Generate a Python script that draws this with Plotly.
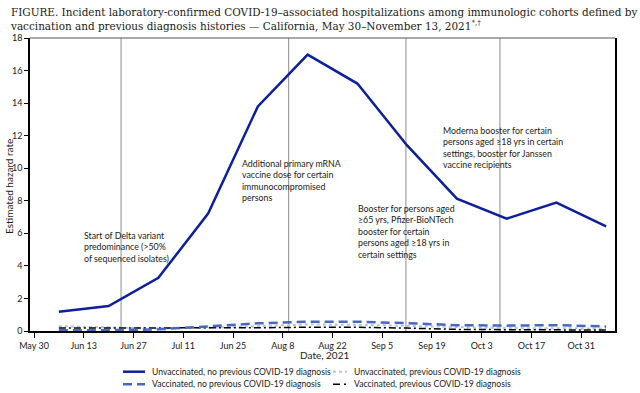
import plotly.graph_objects as go

# ---------------- data ----------------
dates = ["2021-06-06", "2021-06-20", "2021-07-04", "2021-07-18", "2021-08-01", "2021-08-15",
         "2021-08-29", "2021-09-12", "2021-09-26", "2021-10-10", "2021-10-24", "2021-11-07"]
unvax_no_prev = [1.18, 1.53, 3.27, 7.21, 13.8, 16.98, 15.2, 11.4, 8.13, 6.9, 7.89, 6.43]
vax_no_prev = [0.05, 0.05, 0.10, 0.28, 0.47, 0.57, 0.57, 0.48, 0.36, 0.33, 0.36, 0.28]
unvax_prev = [0.30, 0.22, 0.15, 0.20, 0.32, 0.40, 0.38, 0.30, 0.22, 0.18, 0.17, 0.15]
vax_prev = [0.18, 0.18, 0.18, 0.19, 0.20, 0.23, 0.23, 0.18, 0.10, 0.08, 0.08, 0.06]

series_names = ["Unvaccinated, no previous COVID-19 diagnosis",
                "Unvaccinated, previous COVID-19 diagnosis",
                "Vaccinated, no previous COVID-19 diagnosis",
                "Vaccinated, previous COVID-19 diagnosis"]

tick_dates = ["2021-05-30", "2021-06-13", "2021-06-27", "2021-07-11", "2021-07-25", "2021-08-08",
              "2021-08-22", "2021-09-05", "2021-09-19", "2021-10-03", "2021-10-17", "2021-10-31"]
tick_labels = ["May 30", "Jun 13", "Jun 27", "Jul 11", "Jun 25", "Aug 8",
               "Aug 22", "Sep 5", "Sep 19", "Oct 3", "Oct 17", "Oct 31"]

event_dates = ["2021-06-23 12:00", "2021-08-09 16:00", "2021-09-11 16:00", "2021-10-08 03:00"]
event_labels = [
    "Start of Delta variant<br>predominance (>50%<br>of sequenced isolates)",
    "Additional primary mRNA<br>vaccine dose for certain<br>immunocompromised<br>persons",
    "Booster for persons aged<br>≥65 yrs, Pfizer-BioNTech<br>booster for certain<br>persons aged ≥18 yrs in<br>certain settings",
    "Moderna booster for certain<br>persons aged ≥18 yrs in certain<br>settings, booster for Janssen<br>vaccine recipients",
]
label_x = ["2021-06-12 10:00", "2021-07-27", "2021-08-28 14:00", "2021-09-21 12:00"]
label_y = [6.31, 10.74, 7.98, 12.79]

title_text = ("FIGURE. Incident laboratory-confirmed COVID-19–associated hospitalizations among immunologic cohorts defined by<br>"
              "vaccination and previous diagnosis histories — California, May 30–November 13, 2021<sup>*,†</sup>")
x_title = "Date, 2021"
y_title = "Estimated hazard rate"

# ---------------- styles ----------------
C_MAIN = "#0c1f9c"
C_DASH = "#4468c4"
C_DOT = "#b3c2ec"
C_DD = "#000000"
SANS = "Lato, Liberation Sans, Arial"
SERIF = "DejaVu Serif, Liberation Serif, serif"
TXT = "#1a1a1a"

fig = go.Figure()
fig.add_trace(go.Scatter(x=dates, y=unvax_prev, mode="lines", name=series_names[1],
                         line=dict(color=C_DOT, width=2, dash="dot")))
fig.add_trace(go.Scatter(x=dates, y=vax_prev, mode="lines", name=series_names[3],
                         line=dict(color=C_DD, width=1.5, dash="7px,3px,2px,3px")))
fig.add_trace(go.Scatter(x=dates, y=vax_no_prev, mode="lines", name=series_names[2],
                         line=dict(color=C_DASH, width=2.5, dash="9px,5px")))
fig.add_trace(go.Scatter(x=dates, y=unvax_no_prev, mode="lines", name=series_names[0],
                         line=dict(color=C_MAIN, width=2.5)))

# event vertical lines
for d in event_dates:
    fig.add_shape(type="line", xref="x", yref="paper", x0=d, x1=d, y0=0, y1=1,
                  line=dict(color="#8c8c8c", width=1), layer="below")

# event labels
for lx, ly, txt in zip(label_x, label_y, event_labels):
    fig.add_annotation(x=lx, y=ly, xref="x", yref="y", text=txt, showarrow=False,
                       xanchor="left", yanchor="top", align="left",
                       font=dict(family=SANS, size=8.8, color=TXT))

# top border (gray)
fig.add_shape(type="line", xref="paper", yref="paper", x0=0, x1=1, y0=1, y1=1,
              line=dict(color="#555555", width=1))

# title
fig.add_annotation(x=-0.0376, y=1.116, xref="paper", yref="paper", text=title_text,
                   showarrow=False, xanchor="left", yanchor="top", align="left",
                   font=dict(family=SERIF, size=10.45, color=TXT))
# axis titles
fig.add_annotation(x=0.5026, y=-0.082, xref="paper", yref="paper", text=x_title,
                   showarrow=False, xanchor="center", yanchor="middle",
                   font=dict(family=SANS, size=10, color=TXT))
fig.add_annotation(x=-0.0359, y=0.495, xref="paper", yref="paper", text=y_title,
                   showarrow=False, xanchor="center", yanchor="middle", textangle=-90,
                   font=dict(family=SANS, size=10, color=TXT))

# manual legend (2 x 2)
leg_styles = [
    dict(color=C_MAIN, width=2.5),
    dict(color=C_DOT, width=2, dash="dot"),
    dict(color=C_DASH, width=2.5, dash="9px,5px"),
    dict(color=C_DD, width=1.5, dash="7px,4px,2px,3px"),
]
leg_pos = [(0.159, 0.1966, 0.205, -0.1389),
           (0.518, 0.542, 0.5504, -0.1389),
           (0.159, 0.1966, 0.205, -0.1819),
           (0.518, 0.542, 0.5504, -0.1819)]
for i, (x0, x1, xt, yy) in enumerate(leg_pos):
    fig.add_shape(type="line", xref="paper", yref="paper", x0=x0, x1=x1, y0=yy, y1=yy,
                  line=leg_styles[i])
    fig.add_annotation(x=xt, y=yy, xref="paper", yref="paper", text=series_names[i],
                       showarrow=False, xanchor="left", yanchor="middle",
                       font=dict(family=SANS, size=8.6, color=TXT))

fig.update_layout(
    width=640, height=393,
    margin=dict(l=30, r=25, t=38, b=62),
    paper_bgcolor="white", plot_bgcolor="white",
    showlegend=False,
    font=dict(family=SANS, size=9, color=TXT),
)
fig.update_xaxes(
    type="date", range=["2021-05-28 21:00", "2021-11-09 12:00"],
    tickvals=tick_dates, ticktext=tick_labels, tickangle=0, automargin=False,
    showgrid=False, zeroline=False, showline=True, linecolor="black", linewidth=1.5,
    ticks="outside", ticklen=5, tickcolor="black", tickwidth=1,
    tickfont=dict(family=SANS, size=9, color=TXT),
)
fig.update_yaxes(
    range=[0, 18], tickvals=list(range(0, 19, 2)), automargin=False,
    showgrid=False, zeroline=False, showline=True, linecolor="black", linewidth=1.5,
    mirror=True,
    ticks="outside", ticklen=4, tickcolor="black", tickwidth=1,
    tickfont=dict(family=SANS, size=9, color=TXT),
)

fig.write_html("out.html", config={"displayModeBar": False},
               post_script="document.body.style.margin='0px';")
